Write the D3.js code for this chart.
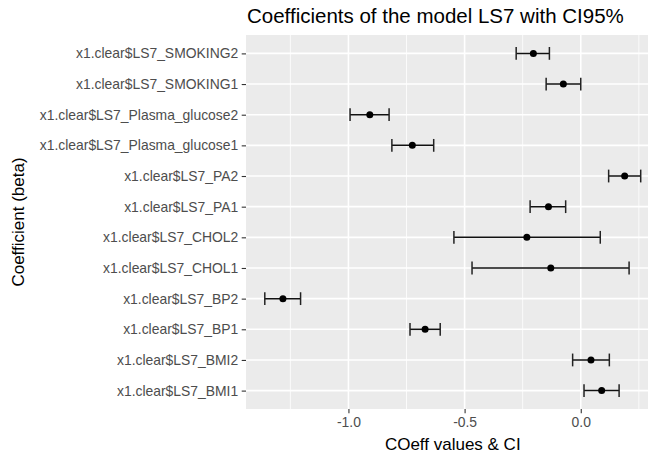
<!DOCTYPE html>
<html>
<head>
<meta charset="utf-8">
<script src="https://cdn.jsdelivr.net/npm/d3@7"></script>
<style>
body { margin: 0; background: #fff; }
text { font-family: "Liberation Sans", Arial, sans-serif; }
</style>
</head>
<body>
<div id="chart"></div>
<script>
// coefficients, top row first
var terms = ["x1.clear$LS7_SMOKING2", "x1.clear$LS7_SMOKING1",
    "x1.clear$LS7_Plasma_glucose2", "x1.clear$LS7_Plasma_glucose1",
    "x1.clear$LS7_PA2", "x1.clear$LS7_PA1",
    "x1.clear$LS7_CHOL2", "x1.clear$LS7_CHOL1",
    "x1.clear$LS7_BP2", "x1.clear$LS7_BP1",
    "x1.clear$LS7_BMI2", "x1.clear$LS7_BMI1"];
var estimates = [-0.204, -0.075, -0.908, -0.725, 0.189, -0.139, -0.232, -0.129, -1.282, -0.670, 0.044, 0.090];
var lower = [-0.278, -0.149, -0.993, -0.813, 0.120, -0.218, -0.546, -0.468, -1.360, -0.735, -0.035, 0.014];
var upper = [-0.135, 0.000, -0.825, -0.633, 0.258, -0.065, 0.084, 0.208, -1.206, -0.605, 0.123, 0.165];
var xTicks = [-1.0, -0.5, 0.0];
var xMinor = [-1.25, -0.75, -0.25, 0.25];

var width = 648, height = 455;
// panel runs off the right edge like in the original
var margin = {top: 35, left: 246, bottom: 46};
var panelRight = 659.5;

var data = terms.map(function(t, i) {
    return {term: t, est: estimates[i], lo: lower[i], hi: upper[i]};
});

var svg = d3.select("#chart").append("svg")
    .attr("width", width)
    .attr("height", height);

// ggplot style 5% expansion
var ext = [d3.min(lower), d3.max(upper)];
var pad = (ext[1] - ext[0]) * 0.05;
var x = d3.scaleLinear()
    .domain([ext[0] - pad, ext[1] + pad])
    .range([margin.left, panelRight]);

var y = d3.scalePoint()
    .domain(terms)
    .range([margin.top, height - margin.bottom])
    .padding(0.6);

var panelBottom = height - margin.bottom;

// panel background
svg.append("rect")
    .attr("x", margin.left)
    .attr("y", margin.top)
    .attr("width", panelRight - margin.left)
    .attr("height", panelBottom - margin.top)
    .style("fill", "#ebebeb");

// minor grid
svg.selectAll(".minor").data(xMinor)
    .enter().append("line")
    .attr("x1", function(d) { return x(d); })
    .attr("x2", function(d) { return x(d); })
    .attr("y1", margin.top)
    .attr("y2", panelBottom)
    .style("stroke", "#fff")
    .style("stroke-width", 0.8);

// major grid
svg.selectAll(".majorx").data(xTicks)
    .enter().append("line")
    .attr("x1", function(d) { return x(d); })
    .attr("x2", function(d) { return x(d); })
    .attr("y1", margin.top)
    .attr("y2", panelBottom)
    .style("stroke", "#fff")
    .style("stroke-width", 1.6);
svg.selectAll(".majory").data(terms)
    .enter().append("line")
    .attr("x1", margin.left)
    .attr("x2", panelRight)
    .attr("y1", function(d) { return y(d); })
    .attr("y2", function(d) { return y(d); })
    .style("stroke", "#fff")
    .style("stroke-width", 1.6);

// axes
var xAxis = d3.axisBottom(x).tickValues(xTicks)
    .tickFormat(d3.format(".1f")).tickSize(4.3).tickPadding(3.5);
var gx = svg.append("g")
    .attr("transform", "translate(0," + panelBottom + ")")
    .call(xAxis);
var yAxis = d3.axisLeft(y).tickSize(4.3).tickPadding(3.5);
var gy = svg.append("g")
    .attr("transform", "translate(" + margin.left + ",0)")
    .call(yAxis);
[gx, gy].forEach(function(g) {
    g.select(".domain").remove();
    g.selectAll(".tick line").style("stroke", "#333").style("stroke-width", 1.1);
    g.selectAll(".tick text")
        .style("fill", "#4d4d4d")
        .style("font-size", "13.9px")
        .style("font-family", "Liberation Sans, Arial, sans-serif");
});
gx.selectAll(".tick text").text(function(d) { return d3.format(".1f")(d).replace("−", "-"); });

// error bars
var bars = svg.selectAll(".bar").data(data)
    .enter().append("g");
var capH = 6.4;
bars.append("line")
    .attr("x1", function(d) { return x(d.lo); })
    .attr("x2", function(d) { return x(d.hi); })
    .attr("y1", function(d) { return y(d.term); })
    .attr("y2", function(d) { return y(d.term); })
    .style("stroke", "#111")
    .style("stroke-width", 1.5);
bars.append("line")
    .attr("x1", function(d) { return x(d.lo); })
    .attr("x2", function(d) { return x(d.lo); })
    .attr("y1", function(d) { return y(d.term) - capH; })
    .attr("y2", function(d) { return y(d.term) + capH; })
    .style("stroke", "#222")
    .style("stroke-width", 1.5);
bars.append("line")
    .attr("x1", function(d) { return x(d.hi); })
    .attr("x2", function(d) { return x(d.hi); })
    .attr("y1", function(d) { return y(d.term) - capH; })
    .attr("y2", function(d) { return y(d.term) + capH; })
    .style("stroke", "#222")
    .style("stroke-width", 1.5);
bars.append("circle")
    .attr("cx", function(d) { return x(d.est); })
    .attr("cy", function(d) { return y(d.term); })
    .attr("r", 3.5)
    .style("fill", "#000");

// titles
svg.append("text")
    .attr("x", margin.left + 1)
    .attr("y", 23)
    .style("font-size", "20.5px")
    .style("fill", "#000")
    .text("Coefficients of the model LS7 with CI95%");
svg.append("text")
    .attr("x", (margin.left + panelRight) / 2)
    .attr("y", 450)
    .style("text-anchor", "middle")
    .style("font-size", "17px")
    .style("fill", "#000")
    .text("COeff values & CI");
svg.append("text")
    .attr("transform", "translate(24," + ((margin.top + panelBottom) / 2) + ") rotate(-90)")
    .style("text-anchor", "middle")
    .style("font-size", "17px")
    .style("fill", "#000")
    .text("Coefficient (beta)");
</script>
</body>
</html>
